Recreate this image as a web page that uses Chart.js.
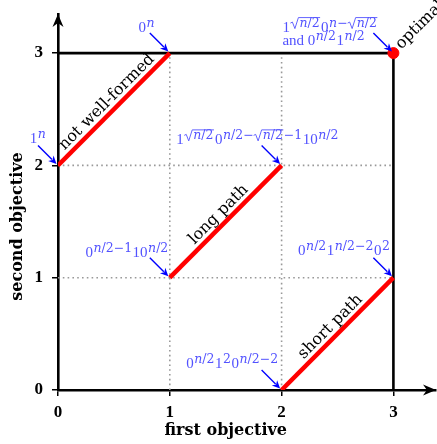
<!DOCTYPE html>
<html>
<head>
<meta charset="utf-8">
<script src="https://cdn.jsdelivr.net/npm/chart.js@4.4.0/dist/chart.umd.min.js"></script>
<style>
html, body { margin: 0; padding: 0; background: #fff; }
#wrap { width: 437px; height: 444px; }
</style>
</head>
<body>
<div id="wrap"><canvas id="myChart"></canvas></div>
<script>
// chart values
const tickValues = [0, 1, 2, 3];
const gridValues = [1, 2];
const notWellFormed = [{x: 0, y: 2}, {x: 1, y: 3}];
const longPath = [{x: 1, y: 1}, {x: 2, y: 2}];
const shortPath = [{x: 2, y: 0}, {x: 3, y: 1}];
const frontier = [{x: 0, y: 3}, {x: 3, y: 3}, {x: 3, y: 0}];
const optimum = [{x: 3, y: 3}];
const pathNames = ['not well-formed', 'long path', 'short path'];
const optimumName = 'optimal';

// bit strings pointing at points (^ = superscript, √{} = root)
const pointLabels = [
    '0^n',
    '1^n',
    '1^{√{n/2}}0^{n−√{n/2}}\nand 0^{n/2}1^{n/2}',
    '1^{√{n/2}}0^{n/2−√{n/2}−1}10^{n/2}',
    '0^{n/2−1}10^{n/2}',
    '0^{n/2}1^{n/2−2}0^2',
    '0^{n/2}1^20^{n/2−2}'
];
const labelX = [1, 0, 3, 2, 1, 3, 2];
const labelY = [3, 2, 3, 2, 1, 1, 0];

// where each label sits relative to its point (pixels)
const labelPlace = [
    {dx: -23, dy: -21, align: 'center'},
    {dx: -20, dy: -22, align: 'center'},
    {dx: -111, dy: -21, align: 'left'},
    {dx: -24, dy: -21, align: 'center'},
    {dx: -1, dy: -21, align: 'right'},
    {dx: -3, dy: -23, align: 'right'},
    {dx: -3, dy: -22, align: 'right'}
];

const topVal = tickValues[tickValues.length - 1];
const gridSets = [
    ...gridValues.map(v => [{x: v, y: 0}, {x: v, y: topVal}]),
    ...gridValues.map(v => [{x: 0, y: v}, {x: topVal, y: v}])
];

const BLUE_TXT = '#5252ff';
const BLUE = '#0000ff';

function parse(s) {
    let i = 0;
    function seq(stop) {
        const out = [];
        let buf = '';
        const flush = () => { if (buf) { out.push({k: 't', v: buf}); buf = ''; } };
        while (i < s.length && s[i] !== stop) {
            const c = s[i];
            if (c === '^' || c === '√') {
                flush();
                i++;
                let kids;
                if (s[i] === '{') { i++; kids = seq('}'); i++; }
                else { kids = [{k: 't', v: s[i]}]; i++; }
                out.push({k: c === '^' ? 'sup' : 'sqrt', c: kids});
            } else { buf += c; i++; }
        }
        flush();
        return out;
    }
    return seq(null);
}

function fontFor(lvl, italic) {
    return lvl ? `${italic ? 'italic ' : ''}12.5px "DejaVu Serif"` : `${italic ? 'italic ' : ''}15px "Liberation Serif"`;
}

function walk(ctx, nodes, x, y, lvl, math, draw) {
    let w = 0;
    for (const nd of nodes) {
        if (nd.k === 't') {
            for (const ch of nd.v) {
                const it = math && /[a-z]/.test(ch);
                ctx.font = fontFor(lvl, it);
                if (draw) ctx.fillText(ch, x + w, y);
                w += ctx.measureText(ch).width;
            }
        } else if (nd.k === 'sup') {
            w += walk(ctx, nd.c, x + w + 0.5, y - 5, lvl + 1, true, draw) + 1;
        } else {
            const r = 8;
            const cw = walk(ctx, nd.c, x + w + r + 1, y, lvl, true, draw);
            if (draw) {
                const x0 = x + w;
                ctx.save();
                ctx.strokeStyle = ctx.fillStyle;
                ctx.lineWidth = 0.9;
                ctx.beginPath();
                ctx.moveTo(x0, y - 4);
                ctx.lineTo(x0 + 2, y - 5);
                ctx.lineTo(x0 + 4.5, y + 1.5);
                ctx.lineTo(x0 + r, y - 9.5);
                ctx.lineTo(x0 + r + cw + 1.5, y - 9.5);
                ctx.stroke();
                ctx.restore();
            }
            w += r + cw + 2;
        }
    }
    return w;
}

function arrowHead(ctx, x, y, ang, len, half) {
    ctx.save();
    ctx.translate(x, y);
    ctx.rotate(ang);
    ctx.beginPath();
    ctx.moveTo(0, 0);
    ctx.lineTo(-len, -half);
    ctx.lineTo(-len * 0.7, 0);
    ctx.lineTo(-len, half);
    ctx.closePath();
    ctx.fill();
    ctx.restore();
}

const decorations = {
    id: 'decorations',
    afterDatasetsDraw(chart) {
        const {ctx, chartArea: ca, scales: {x, y}} = chart;
        ctx.save();

        // axis arrowheads
        ctx.fillStyle = '#000';
        arrowHead(ctx, ca.right, y.getPixelForValue(0), 0, 13, 5.5);
        arrowHead(ctx, x.getPixelForValue(0), ca.top, -Math.PI / 2, 13, 5.5);

        // axis titles
        ctx.fillStyle = '#000';
        ctx.font = 'bold 16px "DejaVu Serif"';
        ctx.textAlign = 'center';
        ctx.textBaseline = 'middle';
        const xMid = (x.getPixelForValue(0) + x.getPixelForValue(topVal)) / 2;
        ctx.fillText('first objective', xMid, ca.bottom + 41);
        const yMid = (y.getPixelForValue(0) + y.getPixelForValue(topVal)) / 2 + 5;
        ctx.save();
        ctx.translate(18, yMid);
        ctx.rotate(-Math.PI / 2);
        ctx.fillText('second objective', 0, 0);
        ctx.restore();

        // rotated path names
        ctx.font = '16px "DejaVu Serif"';
        [notWellFormed, longPath, shortPath].forEach((seg, k) => {
            const x1 = x.getPixelForValue(seg[0].x), y1 = y.getPixelForValue(seg[0].y);
            const x2 = x.getPixelForValue(seg[1].x), y2 = y.getPixelForValue(seg[1].y);
            const ang = Math.atan2(y2 - y1, x2 - x1);
            ctx.save();
            ctx.translate((x1 + x2) / 2, (y1 + y2) / 2);
            ctx.rotate(ang);
            ctx.fillText(pathNames[k], 0, -10);
            ctx.restore();
        });
        ctx.save();
        ctx.translate(x.getPixelForValue(optimum[0].x), y.getPixelForValue(optimum[0].y));
        ctx.rotate(-Math.PI / 4);
        ctx.textAlign = 'left';
        ctx.fillText(optimumName, 8, -1);
        ctx.restore();

        // blue labels with arrows
        ctx.textAlign = 'left';
        ctx.textBaseline = 'alphabetic';
        pointLabels.forEach((txt, k) => {
            const tx = x.getPixelForValue(labelX[k]);
            const ty = y.getPixelForValue(labelY[k]);
            const pl = labelPlace[k];
            ctx.fillStyle = BLUE_TXT;
            txt.split('\n').forEach((line, j) => {
                const nodes = parse(line);
                const w = walk(ctx, nodes, 0, 0, 0, false, false);
                let lx = tx + pl.dx;
                if (pl.align === 'center') lx -= w / 2;
                if (pl.align === 'right') lx -= w;
                walk(ctx, nodes, lx, ty + pl.dy + j * 13, 0, false, true);
            });
            ctx.strokeStyle = BLUE;
            ctx.fillStyle = BLUE;
            ctx.lineWidth = 1.4;
            ctx.beginPath();
            ctx.moveTo(tx - 20, ty - 20);
            ctx.lineTo(tx - 6, ty - 6);
            ctx.stroke();
            arrowHead(ctx, tx - 1.5, ty - 1.5, Math.PI / 4, 8, 3.8);
        });
        ctx.restore();
    }
};

const lineSet = (data, color, width, dash) => ({
    type: 'line',
    data: data,
    borderColor: color,
    borderWidth: width,
    borderDash: dash || [],
    borderCapStyle: 'butt',
    pointRadius: 0,
    fill: false,
    tension: 0
});

const noPad = s => { s.paddingTop = 0; s.paddingBottom = 0; s.paddingLeft = 0; s.paddingRight = 0; };

const ctx = document.getElementById('myChart').getContext('2d');
const myChart = new Chart(ctx, {
    type: 'scatter',
    data: {
        datasets: [
            {
                type: 'scatter',
                data: optimum,
                backgroundColor: '#ff0000',
                borderColor: '#ff0000',
                pointRadius: 5.5
            },
            lineSet(notWellFormed, '#ff0000', 4.5),
            lineSet(longPath, '#ff0000', 4.5),
            lineSet(shortPath, '#ff0000', 4.5),
            lineSet(frontier, '#000000', 2.6),
            ...gridSets.map(d => lineSet(d, '#999999', 1.6, [1.6, 3.2]))
        ]
    },
    options: {
        responsive: true,
        maintainAspectRatio: false,
        animation: false,
        layout: { autoPadding: false, padding: { top: 14, right: 1, left: 0, bottom: 0 } },
        plugins: { legend: { display: false }, tooltip: { enabled: false } },
        scales: {
            x: {
                type: 'linear',
                min: 0,
                max: 3.381,
                afterBuildTicks: s => { s.ticks = tickValues.map(v => ({value: v})); },
                afterFit: s => { s.height = 54; noPad(s); },
                ticks: {
                    color: '#000',
                    padding: 6,
                    font: { family: '"Liberation Serif"', size: 17, weight: 'bold' }
                },
                grid: { drawOnChartArea: false, drawTicks: true, tickLength: 6, color: '#000', lineWidth: 1.5 },
                border: { display: true, color: '#000', width: 2.6 }
            },
            y: {
                type: 'linear',
                min: 0,
                max: 3.348,
                afterBuildTicks: s => { s.ticks = tickValues.map(v => ({value: v})); },
                afterFit: s => { s.width = 58; noPad(s); },
                ticks: {
                    color: '#000',
                    padding: 9,
                    font: { family: '"Liberation Serif"', size: 17, weight: 'bold' }
                },
                grid: { drawOnChartArea: false, drawTicks: true, tickLength: 6, color: '#000', lineWidth: 1.5 },
                border: { display: true, color: '#000', width: 2.6 }
            }
        }
    },
    plugins: [decorations]
});
</script>
</body>
</html>
